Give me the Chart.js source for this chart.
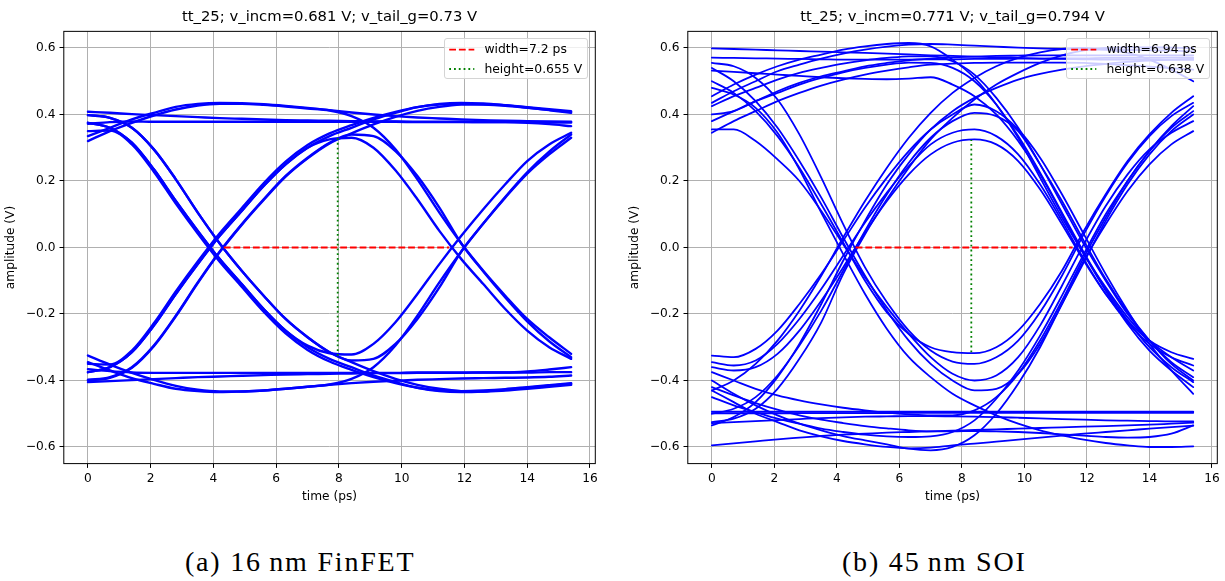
<!DOCTYPE html>
<html>
<head>
<meta charset="utf-8">
<script src="https://cdn.jsdelivr.net/npm/chart.js@4.4.0/dist/chart.umd.min.js"></script>
<style>
  html, body { margin: 0; padding: 0; background: #fff; }
  body { width: 1225px; height: 581px; position: relative; overflow: hidden; font-family: 'DejaVu Sans', sans-serif; }
  canvas { position: absolute; top: 0; }
  .legend { position: absolute; box-sizing: border-box; border: 1px solid #d4d4d4; border-radius: 3px; background: rgba(255,255,255,0.8); }
  .legend span { position: absolute; font-family: 'DejaVu Sans'; font-size: 12.4px; line-height: 15px; color: #000; white-space: nowrap; }
  .legend svg { position: absolute; left: 4px; top: 0; }
  .caption { position: absolute; font-family: 'Liberation Serif', 'Times New Roman', serif; font-size: 28px; letter-spacing: 1.8px; line-height: 30px; color: #000; white-space: nowrap; }
</style>
</head>
<body>
<canvas id="finfet" width="612" height="520" style="left:0px"></canvas>
<canvas id="soi" width="601" height="520" style="left:624px"></canvas>

<div class="legend" id="legFin" style="left:444px; top:37.7px; width:144px; height:41.3px;"></div>
<div class="legend" id="legSoi" style="left:1066px; top:37.7px; width:143.5px; height:41.3px;"></div>

<div class="caption" id="capA" style="left:185px; top:546.6px;"></div>
<div class="caption" id="capB" style="left:842px; top:546.6px;"></div>

<script>
// ---------------- data ----------------
const TIME_PS = [0, 0.7, 1.4, 2.1, 2.8, 3.5, 4.2, 4.9, 5.6, 6.3, 7.0, 7.7, 8.4, 9.1, 9.8, 10.5, 11.2, 11.9, 12.6, 13.3, 14.0, 14.7, 15.4];

const X_TICKS = [0, 2, 4, 6, 8, 10, 12, 14, 16];
const Y_TICKS = [-0.6, -0.4, -0.2, 0.0, 0.2, 0.4, 0.6];
const X_RANGE = [-0.77, 16.17];
const Y_RANGE = [-0.65, 0.65];

const FIN_TITLE = 'tt_25; v_incm=0.681 V; v_tail_g=0.73 V';
const SOI_TITLE = 'tt_25; v_incm=0.771 V; v_tail_g=0.794 V';
const X_LABEL = 'time (ps)';
const Y_LABEL = 'amplitude (V)';
const FIN_LEGEND = ['width=7.2 ps', 'height=0.655 V'];
const SOI_LEGEND = ['width=6.94 ps', 'height=0.638 V'];
const CAPTION_A = '(a) 16\u2009nm FinFET';
const CAPTION_B = '(b) 45\u2009nm SOI';

// eye width / height markers
const FIN_WIDTH_X = [4.33, 11.51];
const FIN_WIDTH_Y = [0, 0];
const FIN_HEIGHT_X = [7.96, 7.96];
const FIN_HEIGHT_Y = [-0.326, 0.329];
const SOI_WIDTH_X = [4.6, 11.54];
const SOI_WIDTH_Y = [0, 0];
const SOI_HEIGHT_X = [8.3, 8.3];
const SOI_HEIGHT_Y = [-0.315, 0.323];

// 16 nm FinFET eye traces (V), sampled at TIME_PS
const fin01 = [0.372,0.377,0.379,0.378,0.378,0.378,0.378,0.378,0.378,0.378,0.378,0.378,0.378,0.378,0.378,0.377,0.377,0.377,0.377,0.377,0.375,0.371,0.365];
const fin02 = [0.408,0.405,0.401,0.398,0.395,0.392,0.389,0.387,0.385,0.383,0.382,0.381,0.380,0.379,0.379,0.378,0.378,0.378,0.377,0.377,0.377,0.376,0.376];
const fin03 = [0.335,0.36,0.385,0.405,0.423,0.432,0.435,0.434,0.431,0.426,0.42,0.413,0.406,0.40,0.395,0.391,0.388,0.385,0.383,0.381,0.38,0.379,0.378];
const fin04 = [0.32,0.35,0.375,0.397,0.415,0.427,0.432,0.432,0.429,0.424,0.418,0.412,0.395,0.36,0.295,0.205,0.105,0.012,-0.07,-0.145,-0.215,-0.27,-0.32];
const fin05 = [0.375,0.36,0.315,0.235,0.14,0.05,-0.035,-0.11,-0.185,-0.25,-0.30,-0.335,-0.36,-0.385,-0.405,-0.422,-0.432,-0.435,-0.433,-0.428,-0.422,-0.416,-0.41];
const fin06 = [0.398,0.39,0.36,0.295,0.205,0.105,0.012,-0.07,-0.145,-0.215,-0.27,-0.315,-0.345,-0.372,-0.395,-0.413,-0.425,-0.432,-0.433,-0.43,-0.425,-0.419,-0.413];
const fin07 = [0.375,0.36,0.315,0.235,0.14,0.05,-0.035,-0.11,-0.185,-0.25,-0.295,-0.318,-0.322,-0.29,-0.225,-0.14,-0.05,0.035,0.115,0.19,0.26,0.31,0.345];
const fin08 = [0.398,0.39,0.36,0.295,0.205,0.105,0.012,-0.07,-0.145,-0.215,-0.27,-0.315,-0.34,-0.335,-0.29,-0.215,-0.12,-0.012,0.072,0.15,0.222,0.28,0.33];
const fin09 = [-0.366,-0.372,-0.376,-0.377,-0.377,-0.377,-0.377,-0.377,-0.377,-0.377,-0.377,-0.377,-0.377,-0.377,-0.377,-0.376,-0.376,-0.376,-0.376,-0.376,-0.373,-0.367,-0.36];
const fin10 = [-0.405,-0.402,-0.399,-0.396,-0.393,-0.39,-0.388,-0.386,-0.384,-0.382,-0.381,-0.38,-0.379,-0.378,-0.378,-0.377,-0.377,-0.377,-0.376,-0.376,-0.376,-0.375,-0.375];
const fin11 = [-0.345,-0.37,-0.393,-0.41,-0.425,-0.432,-0.435,-0.433,-0.43,-0.425,-0.419,-0.413,-0.408,-0.404,-0.401,-0.398,-0.396,-0.394,-0.393,-0.392,-0.391,-0.389,-0.385];
const fin12 = [-0.325,-0.352,-0.377,-0.398,-0.416,-0.428,-0.433,-0.433,-0.43,-0.425,-0.419,-0.412,-0.395,-0.36,-0.295,-0.205,-0.105,-0.012,0.072,0.152,0.226,0.288,0.34];
const fin13 = [-0.375,-0.36,-0.315,-0.235,-0.14,-0.05,0.035,0.11,0.185,0.25,0.30,0.335,0.36,0.385,0.405,0.422,0.432,0.435,0.433,0.428,0.422,0.416,0.41];
const fin14 = [-0.40,-0.392,-0.362,-0.297,-0.207,-0.107,-0.014,0.068,0.143,0.213,0.268,0.313,0.343,0.37,0.393,0.411,0.423,0.43,0.431,0.428,0.421,0.413,0.405];
const fin15 = [-0.375,-0.36,-0.315,-0.235,-0.14,-0.05,0.035,0.11,0.185,0.25,0.30,0.325,0.33,0.30,0.232,0.145,0.05,-0.035,-0.11,-0.185,-0.25,-0.30,-0.335];
const fin16 = [-0.398,-0.39,-0.36,-0.295,-0.205,-0.105,-0.012,0.07,0.145,0.215,0.27,0.315,0.34,0.335,0.29,0.215,0.12,0.012,-0.072,-0.15,-0.222,-0.282,-0.33];
const fin17 = [0.35,0.352,0.31,0.228,0.132,0.042,-0.043,-0.118,-0.193,-0.258,-0.308,-0.343,-0.368,-0.39,-0.408,-0.422,-0.43,-0.432,-0.43,-0.426,-0.42,-0.414,-0.408];
const fin18 = [-0.35,-0.352,-0.31,-0.228,-0.132,-0.042,0.043,0.118,0.193,0.258,0.308,0.343,0.368,0.39,0.408,0.422,0.43,0.432,0.43,0.426,0.42,0.414,0.408];
const FIN_TRACES = [fin01, fin02, fin03, fin04, fin05, fin06, fin07, fin08, fin09, fin10, fin11, fin12, fin13, fin14, fin15, fin16, fin17, fin18];

// 45 nm SOI eye traces (V), sampled at TIME_PS
const soi01 = [0.599,0.597,0.595,0.593,0.591,0.589,0.587,0.585,0.583,0.581,0.578,0.576,0.574,0.572,0.570,0.568,0.567,0.566,0.565,0.565,0.564,0.564,0.564];
const soi02 = [0.571,0.57,0.569,0.568,0.567,0.566,0.565,0.565,0.565,0.565,0.566,0.566,0.567,0.567,0.568,0.568,0.569,0.569,0.57,0.57,0.57,0.571,0.571];
const soi03 = [-0.494,-0.494,-0.494,-0.494,-0.494,-0.494,-0.494,-0.494,-0.494,-0.494,-0.494,-0.494,-0.494,-0.494,-0.494,-0.494,-0.494,-0.494,-0.494,-0.494,-0.494,-0.494,-0.494];
const soi04 = [-0.499,-0.499,-0.499,-0.499,-0.498,-0.498,-0.498,-0.498,-0.498,-0.497,-0.497,-0.497,-0.497,-0.497,-0.497,-0.497,-0.497,-0.497,-0.497,-0.497,-0.497,-0.497,-0.497];
const soi05 = [-0.595,-0.589,-0.583,-0.577,-0.572,-0.567,-0.563,-0.56,-0.557,-0.555,-0.553,-0.551,-0.549,-0.547,-0.545,-0.543,-0.541,-0.539,-0.537,-0.535,-0.533,-0.53,-0.527];
const soi06 = [-0.528,-0.525,-0.522,-0.519,-0.516,-0.513,-0.511,-0.509,-0.508,-0.507,-0.507,-0.508,-0.509,-0.51,-0.512,-0.514,-0.516,-0.518,-0.52,-0.521,-0.522,-0.523,-0.523];
const soi07 = [0.532,0.528,0.524,0.52,0.516,0.512,0.509,0.507,0.506,0.508,0.512,0.49,0.455,0.40,0.32,0.22,0.10,-0.02,-0.12,-0.21,-0.28,-0.33,-0.37];
const soi08 = [0.455,0.49,0.52,0.545,0.565,0.58,0.595,0.605,0.612,0.615,0.605,0.565,0.51,0.43,0.33,0.21,0.09,-0.02,-0.13,-0.23,-0.31,-0.37,-0.42];
const soi09 = [0.435,0.47,0.50,0.53,0.55,0.568,0.583,0.595,0.604,0.61,0.612,0.61,0.607,0.604,0.601,0.599,0.597,0.596,0.595,0.594,0.593,0.592,0.59];
const soi10 = [0.425,0.455,0.48,0.505,0.525,0.54,0.553,0.563,0.57,0.575,0.575,0.56,0.52,0.45,0.36,0.25,0.13,0.01,-0.1,-0.2,-0.28,-0.345,-0.39];
const soi11 = [0.40,0.41,0.44,0.47,0.495,0.515,0.53,0.545,0.555,0.563,0.568,0.572,0.574,0.576,0.577,0.578,0.578,0.578,0.578,0.578,0.578,0.578,0.578];
const soi12 = [0.38,0.41,0.44,0.465,0.49,0.51,0.527,0.54,0.55,0.556,0.555,0.54,0.50,0.43,0.335,0.225,0.105,-0.015,-0.125,-0.22,-0.30,-0.36,-0.405];
const soi13 = [0.355,0.355,0.32,0.265,0.20,0.11,0.01,-0.09,-0.18,-0.26,-0.33,-0.38,-0.40,-0.385,-0.33,-0.235,-0.115,0.01,0.125,0.22,0.295,0.345,0.38];
const soi14 = [0.345,0.38,0.41,0.44,0.465,0.487,0.505,0.52,0.532,0.542,0.55,0.553,0.555,0.556,0.556,0.556,0.556,0.555,0.552,0.548,0.544,0.539,0.535];
const soi15 = [0.54,0.50,0.44,0.36,0.26,0.15,0.03,-0.085,-0.19,-0.28,-0.35,-0.40,-0.43,-0.425,-0.38,-0.29,-0.17,-0.045,0.08,0.19,0.28,0.35,0.40];
const soi16 = [0.50,0.465,0.41,0.335,0.24,0.13,0.015,-0.1,-0.195,-0.26,-0.30,-0.315,-0.318,-0.3,-0.25,-0.17,-0.07,0.05,0.16,0.26,0.34,0.405,0.455];
const soi17 = [0.48,0.46,0.42,0.345,0.235,0.105,-0.02,-0.14,-0.245,-0.33,-0.39,-0.44,-0.475,-0.505,-0.53,-0.55,-0.565,-0.578,-0.588,-0.595,-0.6,-0.6,-0.598];
const soi18 = [-0.325,-0.33,-0.305,-0.25,-0.17,-0.08,0.02,0.12,0.21,0.29,0.355,0.40,0.43,0.41,0.355,0.27,0.16,0.04,-0.08,-0.19,-0.29,-0.37,-0.44];
const soi19 = [-0.345,-0.355,-0.34,-0.29,-0.215,-0.125,-0.025,0.075,0.165,0.245,0.31,0.345,0.355,0.335,0.28,0.19,0.08,-0.035,-0.14,-0.225,-0.29,-0.33,-0.355];
const soi20 = [-0.36,-0.37,-0.36,-0.32,-0.25,-0.16,-0.06,0.045,0.14,0.22,0.28,0.315,0.325,0.31,0.26,0.175,0.07,-0.04,-0.14,-0.22,-0.28,-0.315,-0.335];
const soi21 = [-0.40,-0.44,-0.475,-0.505,-0.53,-0.55,-0.567,-0.58,-0.592,-0.605,-0.61,-0.60,-0.565,-0.50,-0.41,-0.30,-0.17,-0.04,0.07,0.17,0.25,0.31,0.35];
const soi22 = [-0.43,-0.465,-0.50,-0.525,-0.55,-0.568,-0.582,-0.592,-0.6,-0.604,-0.602,-0.595,-0.59,-0.584,-0.578,-0.572,-0.566,-0.56,-0.555,-0.55,-0.545,-0.54,-0.536];
const soi23 = [-0.45,-0.475,-0.495,-0.515,-0.53,-0.545,-0.555,-0.563,-0.568,-0.57,-0.568,-0.555,-0.52,-0.455,-0.37,-0.265,-0.145,-0.02,0.1,0.2,0.29,0.365,0.425];
const soi24 = [-0.42,-0.445,-0.468,-0.488,-0.505,-0.518,-0.528,-0.537,-0.544,-0.55,-0.553,-0.553,-0.552,-0.553,-0.555,-0.558,-0.562,-0.566,-0.57,-0.572,-0.57,-0.56,-0.535];
const soi25 = [-0.375,-0.40,-0.425,-0.445,-0.46,-0.472,-0.482,-0.49,-0.497,-0.502,-0.505,-0.505,-0.49,-0.45,-0.38,-0.28,-0.16,-0.03,0.09,0.2,0.29,0.36,0.41];
const soi26 = [-0.535,-0.51,-0.465,-0.39,-0.29,-0.17,-0.04,0.08,0.19,0.28,0.355,0.41,0.45,0.48,0.505,0.522,0.535,0.545,0.552,0.558,0.562,0.565,0.567];
const soi27 = [-0.525,-0.515,-0.485,-0.425,-0.335,-0.225,-0.08,0.04,0.145,0.24,0.325,0.39,0.445,0.49,0.525,0.555,0.578,0.593,0.6,0.602,0.602,0.601,0.6];
const soi28 = [-0.50,-0.485,-0.45,-0.385,-0.295,-0.19,-0.07,0.05,0.16,0.255,0.33,0.38,0.405,0.395,0.35,0.25,0.14,0.02,-0.095,-0.195,-0.28,-0.35,-0.40];
const soi29 = [-0.43,-0.40,-0.35,-0.28,-0.19,-0.085,0.03,0.14,0.24,0.33,0.405,0.465,0.51,0.545,0.57,0.587,0.597,0.6,0.595,0.585,0.565,0.535,0.50];
const soi30 = [0.555,0.545,0.51,0.445,0.34,0.21,0.07,-0.06,-0.165,-0.25,-0.31,-0.343,-0.35,-0.33,-0.28,-0.195,-0.085,0.04,0.155,0.255,0.335,0.395,0.435];
const SOI_TRACES = [soi01, soi02, soi03, soi04, soi05, soi06, soi07, soi08, soi09, soi10, soi11, soi12, soi13, soi14, soi15, soi16, soi17, soi18, soi19, soi20, soi21, soi22, soi23, soi24, soi25, soi26, soi27, soi28, soi29, soi30];

// ---------------- rendering ----------------
const FONT = 'DejaVu Sans';
const BLUE = '#0000ff';
const RED = '#ff0000';
const GREEN = '#008000';
const DASHED = [6.8, 2.9];
const DOTTED = [1.8, 3.0];

const framePlugin = {
  id: 'frame',
  afterDraw(chart) {
    const { ctx, chartArea: a } = chart;
    ctx.save();
    ctx.strokeStyle = '#000';
    ctx.lineWidth = 1;
    ctx.setLineDash([]);
    ctx.strokeRect(a.left, a.top, a.right - a.left, a.bottom - a.top);
    ctx.restore();
  }
};

function pts(xs, ys) { return xs.map((x, i) => ({ x: x, y: ys[i] })); }

function fmtY(v) {
  const s = Math.abs(v).toFixed(1);
  return v < -1e-9 ? '\u2212' + s : s;
}

function makeChart(canvasId, cfg) {
  const datasets = [];
  datasets.push({ data: pts(cfg.widthX, cfg.widthY), borderColor: RED, borderWidth: 1.8, borderDash: DASHED, order: 0, pointRadius: 0, tension: 0, fill: false });
  datasets.push({ data: pts(cfg.heightX, cfg.heightY), borderColor: GREEN, borderWidth: 1.8, borderDash: DOTTED, order: 0, pointRadius: 0, tension: 0, fill: false });
  cfg.traces.forEach(tr => {
    datasets.push({ data: pts(TIME_PS, tr), borderColor: BLUE, borderWidth: cfg.lineWidth, order: 1, pointRadius: 0, fill: false, cubicInterpolationMode: 'monotone', borderJoinStyle: 'round', borderCapStyle: 'round' });
  });
  return new Chart(document.getElementById(canvasId), {
    type: 'line',
    data: { datasets: datasets },
    plugins: [framePlugin],
    options: {
      responsive: false,
      animation: false,
      devicePixelRatio: 1,
      events: [],
      layout: { padding: { left: 0, right: cfg.padRight, top: 0, bottom: 12 } },
      plugins: {
        legend: { display: false },
        tooltip: { enabled: false },
        title: { display: true, text: cfg.title, fullSize: false, color: '#000', font: { family: FONT, size: 14.8, weight: 'normal' }, padding: { top: 8.1, bottom: 5.5 } }
      },
      scales: {
        x: {
          type: 'linear', min: X_RANGE[0], max: X_RANGE[1],
          afterBuildTicks: s => { s.ticks = X_TICKS.map(v => ({ value: v })); },
          afterFit: s => { s.height = 44.4; },
          ticks: { color: '#000', font: { family: FONT, size: 12.2 }, padding: 4.0, maxRotation: 0, autoSkip: false, callback: v => String(v) },
          grid: { color: '#b0b0b0', lineWidth: 1, drawTicks: true, tickLength: 4.3, tickColor: '#000', tickWidth: 1 },
          border: { display: false },
          title: { display: true, text: X_LABEL, color: '#000', font: { family: FONT, size: 12.2 }, padding: { top: 4, bottom: 4 } }
        },
        y: {
          type: 'linear', min: Y_RANGE[0], max: Y_RANGE[1],
          afterBuildTicks: s => { s.ticks = Y_TICKS.map(v => ({ value: v })); },
          afterFit: s => { s.width = 63.8; },
          ticks: { color: '#000', font: { family: FONT, size: 12.2 }, padding: 4.0, autoSkip: false, callback: v => fmtY(v) },
          grid: { color: '#b0b0b0', lineWidth: 1, drawTicks: true, tickLength: 4.3, tickColor: '#000', tickWidth: 1 },
          border: { display: false },
          title: { display: true, text: Y_LABEL, color: '#000', font: { family: FONT, size: 12.2 }, padding: { top: 4, bottom: 4 } }
        }
      }
    }
  });
}

makeChart('finfet', { traces: FIN_TRACES, lineWidth: 2.4, title: FIN_TITLE, padRight: 16.7,
  widthX: FIN_WIDTH_X, widthY: FIN_WIDTH_Y, heightX: FIN_HEIGHT_X, heightY: FIN_HEIGHT_Y });
makeChart('soi', { traces: SOI_TRACES, lineWidth: 1.8, title: SOI_TITLE, padRight: 7.7,
  widthX: SOI_WIDTH_X, widthY: SOI_WIDTH_Y, heightX: SOI_HEIGHT_X, heightY: SOI_HEIGHT_Y });

function buildLegend(id, labels) {
  const el = document.getElementById(id);
  const rows = [10.6, 30.0];
  const styles = [{ c: RED, d: DASHED }, { c: GREEN, d: DOTTED }];
  let svg = '<svg width="27" height="41">';
  rows.forEach((y, i) => {
    svg += '<line x1="0.2" y1="' + y + '" x2="25.3" y2="' + y + '" stroke="' + styles[i].c + '" stroke-width="1.8" stroke-dasharray="' + styles[i].d.join(' ') + '"/>';
  });
  svg += '</svg>';
  let html = svg;
  rows.forEach((y, i) => {
    html += '<span style="left:39.4px; top:' + (y - 8) + 'px">' + labels[i] + '</span>';
  });
  el.innerHTML = html;
}
buildLegend('legFin', FIN_LEGEND);
buildLegend('legSoi', SOI_LEGEND);

document.getElementById('capA').textContent = CAPTION_A;
document.getElementById('capB').textContent = CAPTION_B;
</script>
</body>
</html>
